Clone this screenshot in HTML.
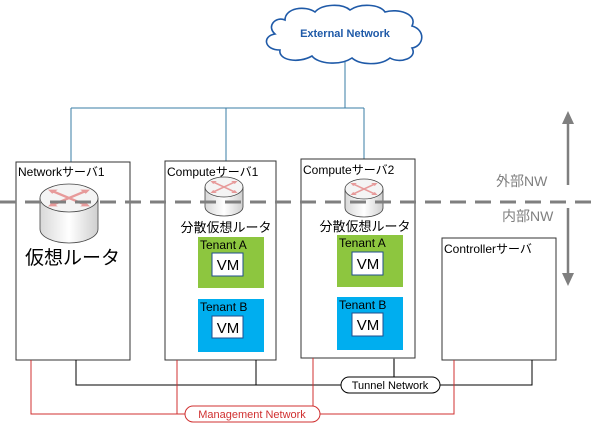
<!DOCTYPE html>
<html><head><meta charset="utf-8"><style>
html,body{margin:0;padding:0;background:#fff;}
svg{display:block;font-family:"Liberation Sans","Noto Sans CJK JP",sans-serif;}
</style></head><body>
<svg width="600" height="424" viewBox="0 0 600 424" xmlns="http://www.w3.org/2000/svg">
<defs>
<linearGradient id="cyl" x1="0" x2="1" y1="0" y2="0">
<stop offset="0" stop-color="#d8d8d8"/><stop offset="0.5" stop-color="#ffffff"/><stop offset="1" stop-color="#cfcfcf"/>
</linearGradient>
<g id="arrows">
<path d="M-0.6,-0.5 L0.6,0.5 M0.6,-0.5 L-0.6,0.5" stroke="#e79a9a" stroke-width="0.14" fill="none"/>
<path d="M0.75,-0.6 L0.4,-0.6 L0.6,-0.3Z M-0.75,0.6 L-0.4,0.6 L-0.6,0.3Z M-0.75,-0.6 L-0.4,-0.6 L-0.6,-0.3Z M0.75,0.6 L0.4,0.6 L0.6,0.3Z" fill="#e79a9a"/>
</g>
</defs>
<path d="M285,20 C285,8 305,5 315,12 C322,4 342,3 350,10 C360,3 380,4 385,12 C398,8 418,14 412,26 C426,30 424,46 412,48 C418,58 400,64 390,58 C380,66 360,65 352,58 C340,66 318,64 312,56 C298,64 278,60 280,50 C264,50 262,36 275,34 C266,26 276,16 285,20 Z" fill="#fff" stroke="#1f5aa8" stroke-width="1.6"/>
<text x="345" y="37" font-size="11" fill="#1f5aa8" text-anchor="middle" font-weight="bold">External Network</text>
<g stroke="#3a7ca5" stroke-width="1" fill="none">
<path d="M345,62 V108 M71,108 H364 M71,108 V190 M226,108 V180 M364,108 V182"/>
</g>
<g fill="#fff" stroke="#333" stroke-width="1">
<rect x="16" y="162" width="114" height="198"/>
<rect x="165" y="161" width="111" height="199"/>
<rect x="301" y="159" width="114" height="199"/>
<rect x="442" y="238" width="114" height="122"/>
</g>
<g font-size="12" fill="#000">
<text x="18" y="176">Networkサーバ1</text>
<text x="167" y="176">Computeサーバ1</text>
<text x="303" y="174">Computeサーバ2</text>
<text x="444" y="253">Controllerサーバ</text>
</g>
<g stroke="#444" stroke-width="0.8">
<path d="M40,198 V229 A29,14 0 0 0 98,229 V198" fill="url(#cyl)"/>
<ellipse cx="69" cy="198" rx="29" ry="14" fill="#f4f4f4"/>
<path d="M205,187 V207 A19,9 0 0 0 243,207 V187" fill="url(#cyl)"/>
<ellipse cx="224" cy="187" rx="19" ry="10" fill="#f4f4f4"/>
<path d="M345,189 V208 A19,9 0 0 0 383,208 V189" fill="url(#cyl)"/>
<ellipse cx="364" cy="189" rx="19" ry="10" fill="#f4f4f4"/>
</g>
<use href="#arrows" transform="translate(69,198) scale(28,14)"/>
<use href="#arrows" transform="translate(224,187) scale(18,10)"/>
<use href="#arrows" transform="translate(364,189) scale(18,10)"/>
<text x="25" y="264" font-size="19" fill="#000">仮想ルータ</text>
<text x="226" y="232" font-size="13" text-anchor="middle">分散仮想ルータ</text>
<text x="365" y="231" font-size="13" text-anchor="middle">分散仮想ルータ</text>
<rect x="198" y="237" width="66" height="51" fill="#8dc63f"/>
<rect x="198" y="299" width="66" height="53" fill="#00aeef"/>
<rect x="337" y="235" width="66" height="52" fill="#8dc63f"/>
<rect x="337" y="297" width="66" height="53" fill="#00aeef"/>
<g font-size="12">
<text x="200" y="249">Tenant A</text><text x="200" y="311">Tenant B</text>
<text x="339" y="247">Tenant A</text><text x="339" y="309">Tenant B</text>
</g>
<g fill="#fff" stroke="#1f4e8c" stroke-width="1">
<rect x="212" y="253" width="31" height="23"/><rect x="212" y="316" width="31" height="22"/>
<rect x="352" y="252" width="31" height="23"/><rect x="352" y="313" width="31" height="23"/>
</g>
<g font-size="15" text-anchor="middle">
<text x="228" y="270">VM</text><text x="228" y="333">VM</text>
<text x="368" y="269">VM</text><text x="368" y="330">VM</text>
</g>
<line x1="0" y1="202" x2="592" y2="202" stroke="#7f7f7f" stroke-width="3" stroke-dasharray="16,9"/>
<line x1="568" y1="122" x2="568" y2="185" stroke="#7f7f7f" stroke-width="2.5"/>
<line x1="568" y1="208" x2="568" y2="275" stroke="#7f7f7f" stroke-width="2.5"/>
<path d="M562,124 L568,111 L574,124Z M562,273 L568,286 L574,273Z" fill="#7f7f7f"/>
<text x="496" y="186" font-size="14" fill="#7f7f7f">外部NW</text>
<text x="502" y="221" font-size="14" fill="#7f7f7f">内部NW</text>
<g stroke="#000" stroke-width="1" fill="none">
<path d="M76,360 V385 H532 V360 M256,360 V385"/>
</g>
<line x1="394" y1="358" x2="394" y2="385" stroke="#777" stroke-width="2"/>
<rect x="341" y="377" width="99" height="16" rx="8" fill="#fff" stroke="#000"/>
<text x="390" y="389" font-size="11" text-anchor="middle">Tunnel Network</text>
<g stroke="#d03030" stroke-width="1" fill="none">
<path d="M31,360 V414 H454 V360 M177,360 V414 M313,358 V414"/>
</g>
<rect x="185" y="406" width="135" height="16" rx="8" fill="#fff" stroke="#d03030"/>
<text x="252" y="418" font-size="11" fill="#d03030" text-anchor="middle">Management Network</text>
</svg>
</body></html>
